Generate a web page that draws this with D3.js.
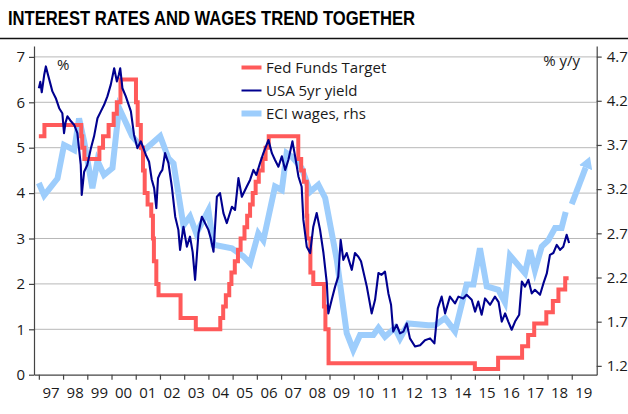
<!DOCTYPE html>
<html>
<head>
<meta charset="utf-8">
<script src="https://cdn.jsdelivr.net/npm/d3@7"></script>
<style>
	body { margin: 0; background: #fff; }
	text { font-family: 'Open Sans', 'Noto Sans', sans-serif; fill: #1a1a1a; }
	.title { font-family: 'Liberation Sans', Arial, sans-serif; font-weight: bold; fill: #000; }
	.grid { stroke: #b8b8b8; stroke-width: 1; }
	.axis path, .axis line { stroke: #444; stroke-width: 1.2; }
</style>
</head>
<body>
<script>
/* 数据: 年份(小数) 与数值 */
const fedDates = [1997.0, 1997.23, 1998.75, 1998.79, 1998.88, 1999.50, 1999.65, 1999.88, 2000.09, 2000.22, 2000.37,
	2001.01, 2001.08, 2001.21, 2001.30, 2001.37, 2001.49, 2001.64, 2001.71, 2001.75, 2001.85, 2001.94,
	2002.85, 2003.48, 2004.49, 2004.61, 2004.72, 2004.86, 2004.95, 2005.09, 2005.22, 2005.33, 2005.49,
	2005.60, 2005.72, 2005.83, 2005.95, 2006.08, 2006.24, 2006.36, 2006.49, 2007.71, 2007.83, 2007.94,
	2008.06, 2008.08, 2008.21, 2008.33, 2008.77, 2008.83, 2008.96, 2015.0, 2015.96, 2016.95, 2017.20,
	2017.45, 2017.95, 2018.22, 2018.45, 2018.73, 2018.87];
const fedValues = [5.25, 5.5, 5.25, 5.0, 4.75, 5.0, 5.25, 5.5, 5.75, 6.0, 6.5,
	6.0, 5.5, 5.0, 4.5, 4.0, 3.75, 3.5, 3.0, 2.5, 2.0, 1.75,
	1.25, 1.0, 1.25, 1.5, 1.75, 2.0, 2.25, 2.5, 2.75, 3.0, 3.25,
	3.5, 3.75, 4.0, 4.25, 4.5, 4.75, 5.0, 5.25, 4.75, 4.5, 4.25,
	3.5, 3.0, 2.25, 2.0, 1.5, 1.0, 0.25, 0.125, 0.375, 0.625, 0.875,
	1.125, 1.375, 1.625, 1.875, 2.125, 2.125];

const yieldDates = [1997.00, 1997.06, 1997.12, 1997.22, 1997.29, 1997.38, 1997.48, 1997.56, 1997.70, 1997.84, 1997.97,
	1998.04, 1998.10, 1998.18, 1998.30, 1998.46, 1998.59, 1998.73, 1998.77, 1998.87, 1999.00, 1999.15,
	1999.28, 1999.42, 1999.56, 1999.69, 1999.83, 1999.97, 2000.11, 2000.22, 2000.30, 2000.36, 2000.45,
	2000.59, 2000.80, 2000.93, 2001.07, 2001.21, 2001.42, 2001.55, 2001.66, 2001.76, 2001.85, 2001.92,
	2002.01, 2002.10, 2002.21, 2002.35, 2002.49, 2002.63, 2002.76, 2002.83, 2002.97, 2003.11, 2003.24,
	2003.35, 2003.45, 2003.59, 2003.73, 2003.86, 2004.00, 2004.10, 2004.21, 2004.35, 2004.48, 2004.62,
	2004.76, 2004.97, 2005.10, 2005.24, 2005.38, 2005.58, 2005.72, 2005.86, 2005.98, 2006.13, 2006.27,
	2006.48, 2006.62, 2006.75, 2006.89, 2007.03, 2007.17, 2007.30, 2007.47, 2007.58, 2007.72, 2007.85,
	2007.92, 2008.06, 2008.20, 2008.33, 2008.47, 2008.61, 2008.75, 2008.89, 2008.95, 2009.09, 2009.23,
	2009.36, 2009.46, 2009.57, 2009.71, 2009.92, 2010.05, 2010.19, 2010.30, 2010.54, 2010.74, 2010.88,
	2011.02, 2011.15, 2011.29, 2011.43, 2011.54, 2011.63, 2011.77, 2011.91, 2012.05, 2012.19, 2012.32,
	2012.53, 2012.74, 2012.94, 2013.15, 2013.33, 2013.47, 2013.63, 2013.77, 2013.97, 2014.18, 2014.32,
	2014.52, 2014.66, 2014.87, 2015.01, 2015.14, 2015.28, 2015.42, 2015.63, 2015.83, 2015.98, 2016.11,
	2016.25, 2016.38, 2016.52, 2016.66, 2016.83, 2016.94, 2017.07, 2017.21, 2017.35, 2017.48, 2017.69,
	2017.83, 2017.97, 2018.10, 2018.24, 2018.38, 2018.52, 2018.65, 2018.79, 2018.89];
const yieldValues = [6.31, 6.45, 6.22, 6.6, 6.79, 6.6, 6.4, 6.24, 6.09, 5.87, 5.76,
	5.32, 5.55, 5.69, 5.6, 5.50, 5.32, 4.62, 3.96, 4.47, 4.62, 4.99,
	5.25, 5.65, 5.80, 5.94, 6.13, 6.39, 6.75, 6.46, 6.6, 6.75, 6.31,
	6.13, 5.80, 5.28, 4.99, 5.14, 4.84, 4.69, 4.3, 4.11, 3.67, 4.33,
	4.44, 4.51, 4.88, 4.66, 4.14, 3.48, 3.19, 2.75, 3.26, 2.82, 3.04,
	2.7, 2.09, 3.12, 3.48, 3.34, 3.19, 3.0, 2.71, 3.92, 4.0, 3.56,
	3.34, 3.70, 3.63, 4.33, 3.92, 4.14, 4.29, 4.51, 4.4, 4.66, 4.88,
	5.17, 4.88, 4.73, 4.58, 4.81, 4.51, 4.73, 5.14, 4.81, 4.36, 4.14,
	3.41, 2.82, 2.68, 3.26, 3.56, 3.19, 2.68, 2.01, 1.35, 1.65, 1.94,
	2.16, 2.97, 2.53, 2.68, 2.31, 2.68, 2.60, 2.5, 1.94, 1.35, 1.65,
	2.24, 2.2, 2.27, 1.79, 1.54, 0.95, 1.10, 0.91, 0.95, 1.13, 0.80,
	0.62, 0.65, 0.76, 0.80, 0.69, 1.46, 1.72, 1.35, 1.72, 1.57, 1.72,
	1.68, 1.76, 1.65, 1.39, 1.61, 1.32, 1.68, 1.54, 1.72, 1.6, 1.17,
	1.35, 1.17, 0.99, 1.17, 1.32, 2.05, 1.94, 2.09, 1.79, 1.87, 1.76,
	2.01, 2.23, 2.64, 2.68, 2.86, 2.75, 2.82, 3.08, 2.90];

const eciDates = [1997.0, 1997.22, 1997.77, 1998.04, 1998.46, 1998.66, 1998.87, 1999.21, 1999.42, 1999.69, 2000.04,
	2000.31, 2000.85, 2001.35, 2002.01, 2002.35, 2002.56, 2002.97, 2003.24, 2003.50, 2004.0, 2004.21,
	2004.97, 2005.44, 2005.72, 2006.06, 2006.27, 2006.75, 2007.03, 2007.23, 2007.44, 2007.85, 2008.2,
	2008.54, 2008.82, 2009.3, 2009.71, 2009.98, 2010.26, 2010.81, 2011.02, 2011.29, 2011.70, 2011.91,
	2012.25, 2013.08, 2013.36, 2013.77, 2014.18, 2014.66, 2014.94, 2015.21, 2015.49, 2015.97, 2016.24,
	2016.45, 2017.07, 2017.28, 2017.48, 2017.76, 2018.03, 2018.31, 2018.58, 2018.75];
const eciValues = [3.27, 3.13, 3.32, 3.70, 3.64, 4.0, 3.74, 3.21, 3.52, 3.36, 3.44,
	4.12, 3.80, 3.64, 3.80, 3.55, 3.49, 2.79, 2.89, 2.70, 2.96, 2.57,
	2.53, 2.44, 2.36, 2.70, 2.62, 3.23, 3.19, 3.61, 3.57, 3.44, 3.17,
	3.25, 3.10, 2.40, 1.57, 1.38, 1.55, 1.55, 1.63, 1.53, 1.63, 1.51,
	1.68, 1.66, 1.66, 1.74, 1.59, 2.12, 2.12, 2.53, 2.10, 2.06, 1.92,
	2.45, 2.25, 2.51, 2.28, 2.55, 2.62, 2.76, 2.76, 2.94];

/* ECI 预测箭头 */
const eciProjDates = [2019.0, 2019.75];
const eciProjValues = [3.03, 3.57];

const leftTicks = [0, 1, 2, 3, 4, 5, 6, 7];
const rightTicks = [1.2, 1.7, 2.2, 2.7, 3.2, 3.7, 4.2, 4.7];
const yearTicks = d3.range(1997, 2020);
const yearLabels = ['97', '98', '99', '00', '01', '02', '03', '04', '05', '06', '07', '08',
	'09', '10', '11', '12', '13', '14', '15', '16', '17', '18', '19'];

const legendNames = ['Fed Funds Target', 'USA 5yr yield', 'ECI wages, rhs'];

/* 常参数定义 */
const width = 628, height = 414;
const plot = {L: 34, R: 596.7, T: 46, B: 374.7};
const colors = {fed: '#ff5a5a', yld: '#00008f', eci: '#9dcdfc'};

const svg = d3.select('body').append('svg')
	.attr('width', width)
	.attr('height', height);

const x = d3.scaleLinear().domain([1996.8, 2020.03]).range([plot.L, plot.R]);
const yL = d3.scaleLinear().domain([0, 7.24]).range([plot.B, plot.T]);
const yR = d3.scaleLinear().domain([1.1, 4.82]).range([plot.B, plot.T]);

/* 标题 */
svg.append('text')
	.attr('class', 'title')
	.attr('x', 8)
	.attr('y', 25)
	.attr('font-size', 19.5)
	.attr('textLength', 407)
	.attr('lengthAdjust', 'spacingAndGlyphs')
	.text('INTEREST RATES AND WAGES TREND TOGETHER');
svg.append('line')
	.attr('x1', 0).attr('x2', width)
	.attr('y1', 38.5).attr('y2', 38.5)
	.attr('stroke', '#111')
	.attr('stroke-width', 1.5);

/* 网格线 */
svg.append('g').selectAll('line')
	.data(leftTicks.filter((d) => d > 0))
	.enter().append('line')
	.attr('class', 'grid')
	.attr('x1', plot.L).attr('x2', plot.R)
	.attr('y1', (d) => yL(d)).attr('y2', (d) => yL(d));

/* 坐标轴 */
const axisL = svg.append('g')
	.attr('class', 'axis')
	.attr('transform', `translate(${plot.L},0)`)
	.call(d3.axisLeft(yL).tickValues(leftTicks).tickSize(5).tickSizeOuter(0).tickPadding(4));
const axisR = svg.append('g')
	.attr('class', 'axis')
	.attr('transform', `translate(${plot.R},0)`)
	.call(d3.axisRight(yR).tickValues(rightTicks).tickFormat(d3.format('.1f')).tickSize(5).tickSizeOuter(0).tickPadding(5));
const axisB = svg.append('g')
	.attr('class', 'axis')
	.attr('transform', `translate(0,${plot.B})`)
	.call(d3.axisBottom(x).tickValues(yearTicks).tickFormat('').tickSize(5).tickSizeOuter(0));
svg.selectAll('.axis text')
	.attr('font-size', 15)
	.attr('fill', '#1a1a1a')
	.style('font-family', "'Open Sans', sans-serif");

/* 年份标签位于两刻度之间 */
svg.append('g').selectAll('text')
	.data(yearTicks)
	.enter().append('text')
	.attr('x', (d) => x(d + 0.5))
	.attr('y', 397.5)
	.attr('text-anchor', 'middle')
	.attr('font-size', 15)
	.text((d, i) => yearLabels[i]);

svg.append('text').attr('x', 57).attr('y', 69.5).attr('font-size', 15).text('%');
svg.append('text').attr('x', 580).attr('y', 66).attr('font-size', 15)
	.attr('text-anchor', 'end').text('% y/y');

/* 数据线 */
const eciData = eciDates.map((d, i) => [d, eciValues[i]]);
const fedData = fedDates.map((d, i) => [d, fedValues[i]]);
const yieldData = yieldDates.map((d, i) => [d, yieldValues[i]]);

const eciLine = d3.line().x((d) => x(d[0])).y((d) => yR(d[1]));
svg.append('path')
	.attr('d', eciLine(eciData))
	.attr('fill', 'none')
	.attr('stroke', colors.eci)
	.attr('stroke-width', 6)
	.attr('stroke-linejoin', 'miter');

/* 预测箭头: 线段缩短至箭头底部 */
const defs = svg.append('defs');
defs.append('marker')
	.attr('id', 'eci-arrow')
	.attr('viewBox', '0 -7 12 14')
	.attr('refX', 0)
	.attr('markerUnits', 'userSpaceOnUse')
	.attr('markerWidth', 12)
	.attr('markerHeight', 14)
	.attr('orient', 'auto')
	.append('path')
	.attr('d', 'M0,-7L12,0L0,7Z')
	.attr('fill', colors.eci);
const px0 = x(eciProjDates[0]), py0 = yR(eciProjValues[0]);
const px1 = x(eciProjDates[1]), py1 = yR(eciProjValues[1]);
const plen = Math.sqrt((px1 - px0) ** 2 + (py1 - py0) ** 2);
svg.append('path')
	.attr('d', `M${px0},${py0}L${px1 - 12 * (px1 - px0) / plen},${py1 - 12 * (py1 - py0) / plen}`)
	.attr('fill', 'none')
	.attr('stroke', colors.eci)
	.attr('stroke-width', 6)
	.attr('marker-end', 'url(#eci-arrow)');

const fedLine = d3.line().curve(d3.curveStepAfter).x((d) => x(d[0])).y((d) => yL(d[1]));
svg.append('path')
	.attr('d', fedLine(fedData))
	.attr('fill', 'none')
	.attr('stroke', colors.fed)
	.attr('stroke-width', 4);

const yieldLine = d3.line().x((d) => x(d[0])).y((d) => yL(d[1]));
svg.append('path')
	.attr('d', yieldLine(yieldData))
	.attr('fill', 'none')
	.attr('stroke', colors.yld)
	.attr('stroke-width', 2.1)
	.attr('stroke-linejoin', 'round');

/* 图例 */
const legendStyles = [
	{color: colors.fed, w: 4},
	{color: colors.yld, w: 2},
	{color: colors.eci, w: 6}
];
const legend = svg.append('g').selectAll('g')
	.data(legendNames)
	.enter().append('g')
	.attr('transform', (d, i) => `translate(241.5,${67.5 + i * 23})`);
legend.append('line')
	.attr('x1', 0).attr('x2', 20)
	.attr('stroke', (d, i) => legendStyles[i].color)
	.attr('stroke-width', (d, i) => legendStyles[i].w);
legend.append('text')
	.attr('x', 24.5)
	.attr('y', 5.5)
	.attr('font-size', 15)
	.text((d) => d);
</script>
</body>
</html>
